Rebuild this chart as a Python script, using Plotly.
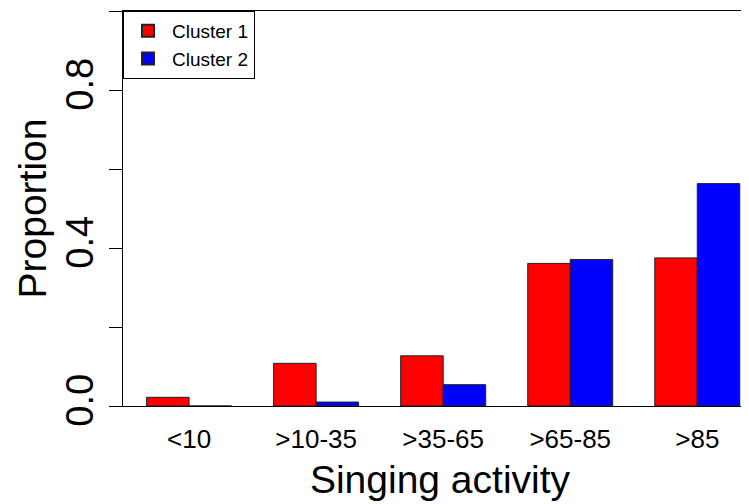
import plotly.graph_objects as go

categories = ["<10", ">10-35", ">35-65", ">65-85", ">85"]
cluster1 = [0.022, 0.108, 0.127, 0.361, 0.375]
cluster2 = [0.0, 0.010, 0.054, 0.371, 0.563]
ytick_vals = [0.0, 0.2, 0.4, 0.6, 0.8, 1.0]
ytick_text = ["0.0", "", "0.4", "", "0.8", ""]

FONT = "Liberation Sans, Arial, sans-serif"

fig = go.Figure()
fig.add_trace(go.Bar(x=categories, y=cluster1, name="Cluster 1",
                     marker=dict(color="#ff0000", line=dict(color="#222222", width=1))))
fig.add_trace(go.Bar(x=categories, y=cluster2, name="Cluster 2",
                     marker=dict(color="#0000ff", line=dict(color="#222222", width=1))))

fig.update_layout(
    width=749, height=504,
    margin=dict(l=115, r=0, t=3, b=106, pad=0, autoexpand=False),
    paper_bgcolor="white", plot_bgcolor="white",
    barmode="group", bargap=0.331, bargroupgap=0,
    font=dict(family=FONT, color="black"),
    showlegend=True,
    legend=dict(x=0, y=1, xanchor="left", yanchor="top",
                bordercolor="black", borderwidth=1, bgcolor="white",
                font=dict(size=19, family=FONT), itemsizing="constant",
                itemwidth=38, tracegroupgap=0),
)
fig.update_xaxes(
    type="category", range=[-0.52, 4.47], automargin=False,
    showline=True, mirror=True, linecolor="black", linewidth=1,
    ticks="", showgrid=False, zeroline=False,
    tickfont=dict(size=26, family=FONT), ticklabelstandoff=10,
    title=dict(text="Singing activity", font=dict(size=39, family=FONT), standoff=12),
)
fig.update_yaxes(
    range=[0, 1], automargin=False, showline=True, linecolor="black", linewidth=1,
    tickvals=ytick_vals, ticktext=ytick_text, ticks="outside", ticklen=13,
    tickcolor="black", showgrid=False, zeroline=False, tickangle=-90,
    tickfont=dict(size=38, family=FONT), ticklabelstandoff=1,
    title=dict(text="Proportion", font=dict(size=39, family=FONT), standoff=0),
)

fig.write_html("out.html")
